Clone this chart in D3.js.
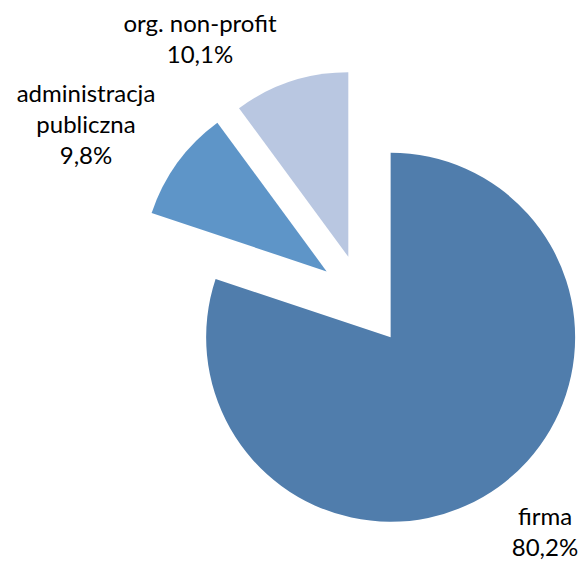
<!DOCTYPE html>
<html>
<head>
<meta charset="utf-8">
<script src="https://cdn.jsdelivr.net/npm/d3@7"></script>
<style>
  html, body { margin: 0; padding: 0; background: #fff; }
  svg { display: block; }
</style>
</head>
<body>
<svg id="chart" width="581" height="561"></svg>
<script>
// ---- data ----
const categories = ["firma", "administracja publiczna", "org. non-profit"];
const values = [80.2, 9.8, 10.1];
const valueLabels = ["80,2%", "9,8%", "10,1%"];
const labelLines = [["firma"], ["administracja", "publiczna"], ["org. non-profit"]];
const colors = ["#507DAC", "#5E95C8", "#B9C7E1"];

// ---- layout ----
const W = 581, H = 561;
const cx = 361.4, cy = 296.7, R = 184.5;
const explode = [50, 43, 42];
const labelPos = [[545, 525], [86, 101.5], [200, 32]];
const lineH = 31;

const svg = d3.select("#chart");
const pie = d3.pie().sort(null).value(d => d.value).startAngle(0).endAngle(2 * Math.PI);
const arc = d3.arc().innerRadius(0).outerRadius(R);

const data = categories.map((c, i) => ({ name: c, value: values[i], i }));
const arcs = pie(data);

const g = svg.append("g").attr("transform", `translate(${cx},${cy})`);

g.selectAll("path")
  .data(arcs)
  .join("path")
  .attr("d", arc)
  .attr("fill", d => colors[d.data.i])
  .attr("transform", d => {
    const a = (d.startAngle + d.endAngle) / 2;
    const dx = Math.sin(a) * explode[d.data.i];
    const dy = -Math.cos(a) * explode[d.data.i];
    return `translate(${dx},${dy})`;
  });

const labels = svg.append("g")
  .attr("font-family", "Lato, 'Open Sans', sans-serif")
  .attr("font-size", 24)
  .attr("fill", "#000")
  .attr("text-anchor", "middle");

data.forEach((d, i) => {
  const lines = labelLines[i].concat([valueLabels[i]]);
  const t = labels.append("text")
    .attr("x", labelPos[i][0])
    .attr("y", labelPos[i][1]);
  lines.forEach((ln, k) => {
    t.append("tspan")
      .attr("x", labelPos[i][0])
      .attr("dy", k === 0 ? 0 : lineH)
      .text(ln);
  });
});
</script>
</body>
</html>
